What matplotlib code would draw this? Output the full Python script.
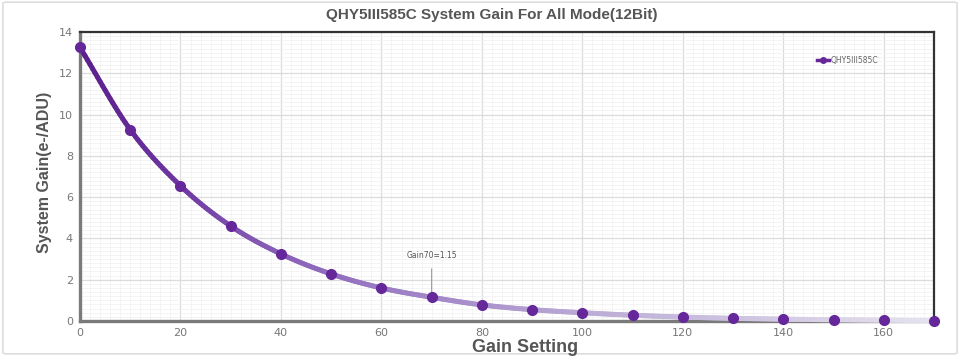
import numpy as np
import matplotlib
matplotlib.use("Agg")
import matplotlib.pyplot as plt
from matplotlib.collections import LineCollection
from matplotlib.colors import LinearSegmentedColormap
from matplotlib.patches import FancyBboxPatch
from matplotlib.ticker import MultipleLocator

# data
gain_setting = [0, 10, 20, 30, 40, 50, 60, 70, 80, 90, 100, 110, 120, 130, 140, 150, 160, 170]
system_gain = [13.25, 9.27, 6.55, 4.6, 3.25, 2.28, 1.6, 1.15, 0.78, 0.55, 0.4, 0.28, 0.19, 0.13,
               0.09, 0.06, 0.04, 0.02]
series_name = "QHY5III585C"
note_text = "Gain70=1.15"

purple = "#65279a"
text_gray = "#555555"


def smooth(x, y, n=20):
    # catmull-rom through the points, just for drawing the curve
    x = np.asarray(x, float)
    y = np.asarray(y, float)
    px = np.concatenate([[2 * x[0] - x[1]], x, [2 * x[-1] - x[-2]]])
    py = np.concatenate([[2 * y[0] - y[1]], y, [2 * y[-1] - y[-2]]])
    xs, ys = [], []
    t = np.linspace(0, 1, n, endpoint=False)
    for i in range(1, len(px) - 2):
        for p, out in ((px, xs), (py, ys)):
            p0, p1, p2, p3 = p[i - 1], p[i], p[i + 1], p[i + 2]
            out.append(0.5 * (2 * p1 + (-p0 + p2) * t + (2 * p0 - 5 * p1 + 4 * p2 - p3) * t ** 2
                              + (-p0 + 3 * p1 - 3 * p2 + p3) * t ** 3))
    xs.append([x[-1]])
    ys.append([y[-1]])
    return np.concatenate(xs), np.concatenate(ys)


fig = plt.figure(figsize=(9.6, 3.56), dpi=100)
fig.patches.append(FancyBboxPatch((0.003, 0.006), 0.994, 0.988, boxstyle="round,pad=0,rounding_size=0.004",
                                  transform=fig.transFigure, facecolor="none", edgecolor="#dddddd", lw=1.2,
                                  zorder=-1))
ax = fig.add_axes([80 / 960, 35 / 356, 854 / 960, 289 / 356])
ax.set_facecolor("white")

ax.set_xlim(0, 170)
ax.set_ylim(0, 14)
ax.xaxis.set_major_locator(MultipleLocator(20))
ax.yaxis.set_major_locator(MultipleLocator(2))
ax.xaxis.set_minor_locator(MultipleLocator(2))
ax.yaxis.set_minor_locator(MultipleLocator(0.2))
ax.grid(which="major", color="#dcdcdc", lw=0.9)
ax.grid(which="minor", color="#f0f0f0", lw=0.5)
ax.set_axisbelow(True)
ax.tick_params(which="both", length=0, labelsize=8, labelcolor="#777777", pad=5)

for s in ["left", "bottom"]:
    ax.spines[s].set_color("#7a7a7a")
    ax.spines[s].set_linewidth(2.4)
for s in ["top", "right"]:
    ax.spines[s].set_color("#333333")
    ax.spines[s].set_linewidth(1.6)

# gradient line, dark purple fading out along x
sx, sy = smooth(gain_setting, system_gain)
pts = np.column_stack([sx, sy]).reshape(-1, 1, 2)
segs = np.concatenate([pts[:-1], pts[1:]], axis=1)
cmap = LinearSegmentedColormap.from_list("fade", [(0.0, "#5a1f8c"), (0.1, "#6a339e"), (0.2, "#8257b3"),
                                                  (0.35, "#9a7bc4"), (0.6, "#bbacd5"), (1.0, "#e6e2ef")])
lc = LineCollection(segs, cmap=cmap, linewidths=3.6, capstyle="round", zorder=3, clip_on=False)
lc.set_array((sx[:-1] + sx[1:]) / 2 / max(gain_setting))
ax.add_collection(lc)

ax.plot(gain_setting, system_gain, ls="none", marker="o", ms=7, color=purple, zorder=4, clip_on=False)
ax.plot([], [], color=purple, lw=2.5, marker="o", ms=4, label=series_name)

ax.annotate(note_text, xy=(gain_setting[7], system_gain[7] + 0.2), xytext=(gain_setting[7], 3.15),
            ha="center", va="center", fontsize=5.5, color="#555555",
            arrowprops=dict(arrowstyle="-", color="#999999", lw=0.8, shrinkA=4, shrinkB=0))

ax.legend(loc="center left", bbox_to_anchor=(817 / 960, 1 - 60 / 356), bbox_transform=fig.transFigure,
          frameon=False, fontsize=5.5, handlelength=1.6, handletextpad=0.2, labelcolor="#666666",
          borderaxespad=0, borderpad=0)

fig.text(492 / 960, 1 - 15 / 356, "QHY5III585C System Gain For All Mode(12Bit)", ha="center", va="center",
         fontsize=11, fontweight="bold", color=text_gray, family="Liberation Sans")
fig.text(45 / 960, 1 - 172 / 356, "System Gain(e-/ADU)", rotation=90, ha="center", va="center",
         fontsize=11.5, fontweight="bold", color=text_gray, family="Liberation Sans")
fig.text(525 / 960, 1 - 347 / 356, "Gain Setting", ha="center", va="center",
         fontsize=13, fontweight="bold", color=text_gray, family="Liberation Sans")

fig.savefig("out.png", dpi=100)
